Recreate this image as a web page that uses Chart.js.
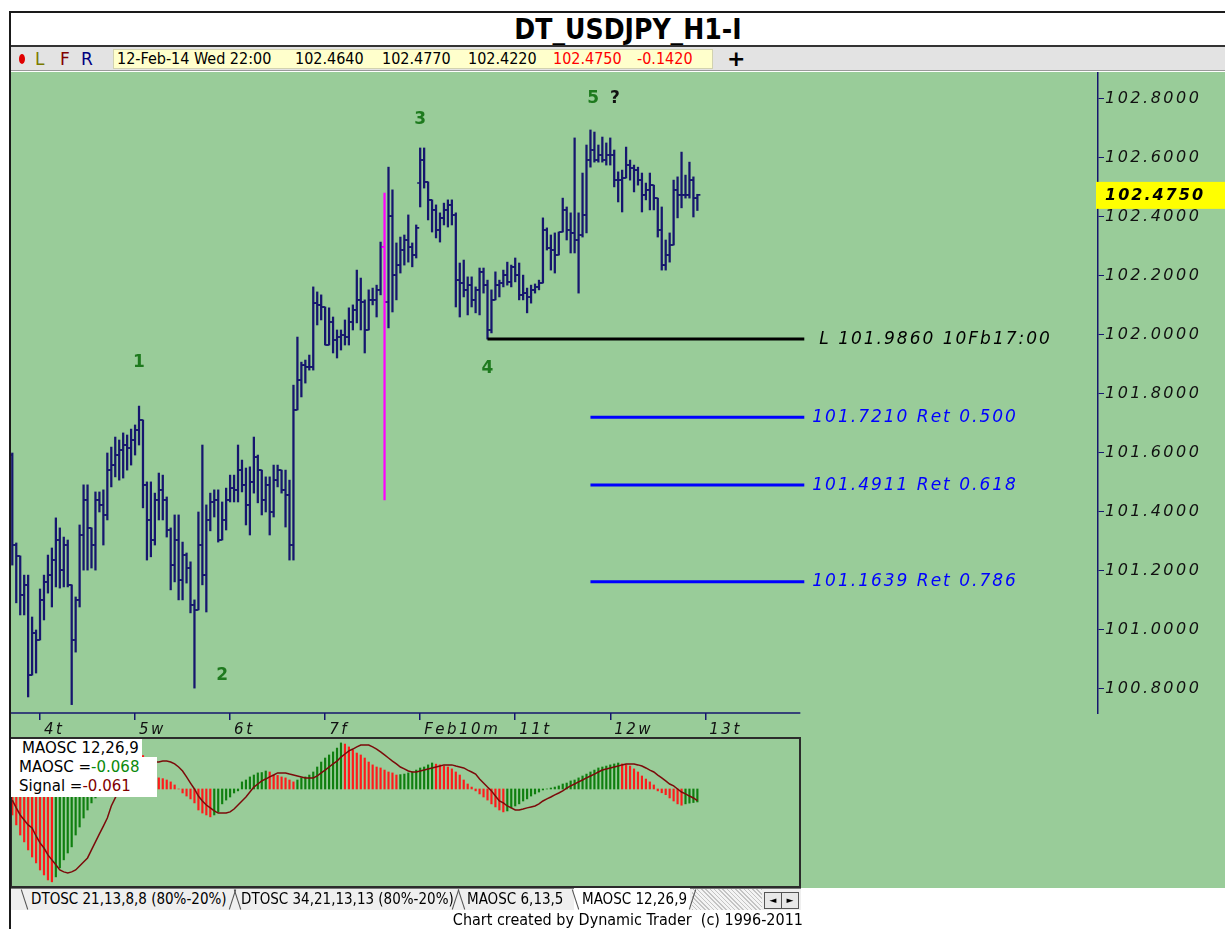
<!DOCTYPE html>
<html>
<head>
<meta charset="utf-8">
<title>DT_USDJPY_H1-I</title>
<script src="https://cdn.jsdelivr.net/npm/chart.js@4.4.1/dist/chart.umd.min.js"></script>
<style>
  body { margin: 0; width: 1225px; height: 929px; position: relative; overflow: hidden; background: #fff; font-family: "DejaVu Sans", sans-serif; }
  .abs { position: absolute; }
  .cond { font-family: "DejaVu Sans Condensed", "DejaVu Sans", sans-serif; font-stretch: condensed; }
  #frameTop { left: 9px; top: 11px; width: 1216px; height: 2px; background: #1a1a1a; }
  #frameLeft { left: 9px; top: 11px; width: 2px; height: 918px; background: #1a1a1a; z-index: 5; }
  #title { left: 0; top: 14px; width: 1256px; text-align: center; font-weight: bold; font-size: 28px; line-height: 32px; }
  #titleRule { left: 11px; top: 45px; width: 1214px; height: 2px; background: #333; }
  #toolbar { left: 11px; top: 47px; width: 1214px; height: 24px; background: #e3e3e3; border-bottom: 1px solid #9a9a9a; box-sizing: border-box; }
  #green { left: 11px; top: 72px; width: 1214px; height: 816px; background: #99cc99; }
  #quote { left: 113px; top: 49px; width: 600px; height: 20px; background: #ffffcc; border: 1px solid #d2d2b0; box-sizing: border-box; }
  .q { top: 49px; font-size: 16px; line-height: 20px; color: #000; }
  .q.red { color: #ff0000; }
  .lfr { top: 48px; font-size: 17px; line-height: 22px; }
  #oscFrame { left: 10px; top: 737px; width: 791px; height: 151px; border: 2px solid #2b2b2b; box-sizing: border-box; pointer-events: none; }
  .olab { font-size: 15px; line-height: 19px; color: #000; }
  #tabStrip { left: 11px; top: 888px; width: 790px; height: 22px; background: #efefef; border-top: 1px solid #7a7a7a; box-sizing: border-box; }
  .tab { top: 890px; font-size: 15px; line-height: 18px; color: #000; }
  .sep { top: 889px; width: 1px; height: 21px; background: #555; }
</style>
</head>
<body>
<div class="abs" id="green"></div>
<div class="abs" id="frameTop"></div>
<div class="abs" id="frameLeft"></div>
<div class="abs cond" id="title">DT_USDJPY_H1-I</div>
<div class="abs" id="titleRule"></div>
<div class="abs" id="toolbar"></div>
<div class="abs" style="left:19px;top:54px;width:6px;height:10px;border-radius:50%;background:#e00000"></div>
<div class="abs lfr" style="left:35px;color:#7a7a00">L</div>
<div class="abs lfr" style="left:60px;color:#800000">F</div>
<div class="abs lfr" style="left:81px;color:#000080">R</div>
<div class="abs" id="quote"></div>
<div class="abs q cond" id="qTime" style="left:117px">12-Feb-14 Wed 22:00</div>
<div class="abs q cond" id="qOpen" style="left:295px"></div>
<div class="abs q cond" id="qHigh" style="left:382px"></div>
<div class="abs q cond" id="qLow" style="left:468px"></div>
<div class="abs q cond red" id="qClose" style="left:553px"></div>
<div class="abs q cond red" id="qChange" style="left:637px">-0.1420</div>
<div class="abs" style="left:727px;top:46px;font-size:22px;font-weight:bold;line-height:26px">+</div>

<canvas id="priceChart" class="abs" style="left:0;top:72px" width="1225" height="668"></canvas>

<canvas id="oscChart" class="abs" style="left:10px;top:737px" width="790" height="150"></canvas>
<div class="abs" id="oscFrame"></div>
<div class="abs" style="left:11px;top:739px;width:131px;height:18px;background:#fff"></div>
<div class="abs" style="left:11px;top:757px;width:146px;height:40px;background:#fff"></div>
<div class="abs olab" style="left:22px;top:739px">MAOSC 12,26,9</div>
<div class="abs olab" style="left:19px;top:758px">MAOSC =<span id="oscVal" style="color:#0a8a0a"></span></div>
<div class="abs olab" style="left:19px;top:777px">Signal =<span id="sigVal" style="color:#800000"></span></div>

<div class="abs" id="tabStrip"></div>
<div class="abs" style="left:692px;top:889px;width:70px;height:21px;background:repeating-linear-gradient(45deg,#c4c4c4 0 1px,#f4f4f4 1px 3px)"></div>
<div class="abs" style="left:574px;top:888px;width:116px;height:22px;background:#fff"></div>
<div class="abs sep" style="left:24px;transform:rotate(-18deg)"></div>
<div class="abs sep" style="left:232px;transform:rotate(18deg)"></div>
<div class="abs sep" style="left:237px;transform:rotate(-18deg)"></div>
<div class="abs sep" style="left:455px;transform:rotate(18deg)"></div>
<div class="abs sep" style="left:461px;transform:rotate(-18deg)"></div>
<div class="abs sep" style="left:575px;transform:rotate(-18deg)"></div>
<div class="abs sep" style="left:692px;transform:rotate(18deg)"></div>
<div class="abs tab cond" style="left:31px">DTOSC 21,13,8,8 (80%-20%)</div>
<div class="abs tab cond" style="left:241px">DTOSC 34,21,13,13 (80%-20%)</div>
<div class="abs tab cond" style="left:467px">MAOSC 6,13,5</div>
<div class="abs tab cond" style="left:582px">MAOSC 12,26,9</div>
<div class="abs" style="left:764px;top:892px;width:16px;height:15px;border:1px solid #555;background:#e8e8e8;font-size:9px;line-height:15px;text-align:center">&#9668;</div>
<div class="abs" style="left:781px;top:892px;width:16px;height:15px;border:1px solid #555;background:#e8e8e8;font-size:9px;line-height:15px;text-align:center">&#9658;</div>
<div class="abs cond" style="left:0;top:910px;width:803px;text-align:right;font-size:16px;line-height:19px">Chart created by Dynamic Trader&nbsp; (c) 1996-2011</div>

<script>
// USDJPY hourly bars, 3-Feb 17:00 .. 12-Feb 22:00 (bar index 0..173)
const opens = [
  101.593, 101.288, 101.251, 101.119, 101.153, 100.847, 100.990, 100.966, 101.102, 101.163,
  101.186, 101.237, 101.305, 101.203, 101.288, 101.153, 100.966, 101.102, 101.322, 101.441,
  101.346, 101.288, 101.441, 101.424, 101.390, 101.542, 101.559, 101.593, 101.610, 101.627,
  101.617, 101.644, 101.678, 101.712, 101.492, 101.373, 101.305, 101.441, 101.475, 101.441,
  101.339, 101.220, 101.305, 101.169, 101.254, 101.210, 101.085, 101.068, 101.288, 101.186,
  101.373, 101.434, 101.441, 101.305, 101.373, 101.441, 101.481, 101.475, 101.542, 101.492,
  101.424, 101.502, 101.586, 101.542, 101.441, 101.492, 101.400, 101.508, 101.542, 101.475,
  101.458, 101.288, 101.746, 101.847, 101.898, 101.892, 101.892, 102.108, 102.102, 102.095,
  101.966, 102.044, 101.983, 101.993, 102.000, 101.993, 102.044, 102.085, 102.119, 102.112,
  102.017, 102.119, 102.119, 102.153, 102.298, 102.112, 102.403, 102.203, 102.237, 102.288,
  102.322, 102.298, 102.271, 102.515, 102.593, 102.519, 102.458, 102.424, 102.356, 102.397,
  102.424, 102.441, 102.407, 102.186, 102.176, 102.153, 102.169, 102.119, 102.153, 102.214,
  102.169, 102.017, 102.119, 102.169, 102.176, 102.203, 102.180, 102.231, 102.203, 102.136,
  102.142, 102.129, 102.153, 102.163, 102.176, 102.356, 102.295, 102.288, 102.271, 102.349,
  102.424, 102.356, 102.346, 102.322, 102.339, 102.407, 102.593, 102.627, 102.593, 102.610,
  102.593, 102.610, 102.610, 102.525, 102.525, 102.532, 102.576, 102.566, 102.559, 102.525,
  102.475, 102.492, 102.508, 102.464, 102.356, 102.237, 102.271, 102.305, 102.492, 102.475,
  102.475, 102.475, 102.525, 102.464
];
const highs = [
  101.600, 101.295, 101.251, 101.186, 101.186, 101.044, 101.000, 101.139, 101.186, 101.254,
  101.278, 101.380, 101.346, 101.315, 101.305, 101.153, 101.112, 101.356, 101.492, 101.492,
  101.346, 101.468, 101.468, 101.475, 101.600, 101.620, 101.654, 101.644, 101.668, 101.661,
  101.681, 101.695, 101.759, 101.712, 101.502, 101.502, 101.464, 101.532, 101.525, 101.451,
  101.346, 101.390, 101.390, 101.298, 101.261, 101.231, 101.102, 101.400, 101.627, 101.424,
  101.464, 101.475, 101.475, 101.434, 101.481, 101.525, 101.525, 101.627, 101.576, 101.549,
  101.553, 101.654, 101.593, 101.542, 101.519, 101.519, 101.559, 101.559, 101.542, 101.542,
  101.508, 101.830, 101.993, 101.908, 101.915, 101.932, 102.163, 102.146, 102.136, 102.095,
  102.092, 102.061, 102.017, 102.017, 102.051, 102.092, 102.102, 102.220, 102.193, 102.119,
  102.153, 102.159, 102.169, 102.315, 102.481, 102.569, 102.492, 102.312, 102.332, 102.339,
  102.407, 102.312, 102.373, 102.634, 102.634, 102.519, 102.458, 102.441, 102.414, 102.447,
  102.458, 102.458, 102.414, 102.244, 102.254, 102.197, 102.197, 102.163, 102.227, 102.227,
  102.186, 102.153, 102.214, 102.186, 102.220, 102.247, 102.237, 102.261, 102.244, 102.203,
  102.159, 102.169, 102.173, 102.186, 102.397, 102.363, 102.339, 102.346, 102.349, 102.464,
  102.434, 102.414, 102.668, 102.414, 102.549, 102.644, 102.695, 102.688, 102.644, 102.671,
  102.651, 102.668, 102.627, 102.553, 102.559, 102.637, 102.593, 102.576, 102.569, 102.549,
  102.515, 102.549, 102.508, 102.464, 102.434, 102.322, 102.346, 102.525, 102.536, 102.620,
  102.542, 102.586, 102.536, 102.477
];
const lows = [
  101.220, 101.092, 101.051, 101.051, 100.773, 100.847, 100.854, 100.966, 101.034, 101.125,
  101.078, 101.146, 101.142, 101.146, 101.146, 100.747, 100.925, 101.078, 101.203, 101.203,
  101.210, 101.203, 101.400, 101.288, 101.373, 101.485, 101.519, 101.508, 101.515, 101.542,
  101.559, 101.593, 101.627, 101.414, 101.237, 101.248, 101.288, 101.373, 101.373, 101.315,
  101.136, 101.163, 101.102, 101.102, 101.159, 101.058, 100.803, 101.068, 101.153, 101.061,
  101.336, 101.383, 101.298, 101.305, 101.339, 101.434, 101.434, 101.434, 101.468, 101.356,
  101.322, 101.464, 101.431, 101.390, 101.400, 101.322, 101.383, 101.485, 101.464, 101.349,
  101.237, 101.237, 101.746, 101.790, 101.837, 101.881, 101.881, 102.034, 102.051, 101.966,
  101.966, 101.939, 101.922, 101.949, 101.966, 101.966, 102.017, 102.041, 102.017, 101.939,
  102.017, 102.102, 102.061, 102.136, 101.441, 102.024, 102.078, 102.119, 102.210, 102.237,
  102.247, 102.231, 102.261, 102.434, 102.498, 102.390, 102.349, 102.329, 102.315, 102.373,
  102.366, 102.373, 102.095, 102.061, 102.129, 102.068, 102.095, 102.075, 102.068, 102.142,
  101.986, 102.007, 102.119, 102.129, 102.163, 102.169, 102.163, 102.180, 102.119, 102.119,
  102.075, 102.108, 102.142, 102.153, 102.176, 102.288, 102.220, 102.210, 102.271, 102.349,
  102.322, 102.278, 102.278, 102.142, 102.332, 102.346, 102.569, 102.586, 102.586, 102.586,
  102.576, 102.576, 102.502, 102.451, 102.417, 102.532, 102.525, 102.485, 102.508, 102.417,
  102.458, 102.424, 102.424, 102.332, 102.220, 102.220, 102.247, 102.305, 102.397, 102.431,
  102.464, 102.464, 102.400, 102.422
];
const closes = [
  101.288, 101.251, 101.119, 101.153, 100.847, 100.990, 100.966, 101.102, 101.163, 101.186,
  101.237, 101.305, 101.203, 101.288, 101.153, 100.966, 101.102, 101.322, 101.441, 101.346,
  101.288, 101.441, 101.424, 101.390, 101.542, 101.559, 101.593, 101.610, 101.627, 101.617,
  101.644, 101.678, 101.712, 101.492, 101.373, 101.305, 101.441, 101.475, 101.441, 101.339,
  101.220, 101.305, 101.169, 101.254, 101.210, 101.085, 101.068, 101.288, 101.186, 101.373,
  101.434, 101.441, 101.305, 101.373, 101.441, 101.481, 101.475, 101.542, 101.492, 101.424,
  101.502, 101.586, 101.542, 101.441, 101.492, 101.400, 101.508, 101.542, 101.475, 101.458,
  101.288, 101.746, 101.847, 101.898, 101.892, 101.892, 102.108, 102.102, 102.095, 101.966,
  102.044, 101.983, 101.993, 102.000, 101.993, 102.044, 102.085, 102.119, 102.112, 102.017,
  102.119, 102.119, 102.153, 102.298, 102.112, 102.403, 102.203, 102.237, 102.288, 102.322,
  102.298, 102.271, 102.363, 102.593, 102.519, 102.458, 102.424, 102.356, 102.397, 102.424,
  102.441, 102.407, 102.186, 102.176, 102.153, 102.169, 102.119, 102.153, 102.214, 102.169,
  102.017, 102.119, 102.169, 102.176, 102.203, 102.180, 102.231, 102.203, 102.136, 102.142,
  102.129, 102.153, 102.163, 102.176, 102.356, 102.295, 102.288, 102.271, 102.349, 102.424,
  102.356, 102.346, 102.322, 102.339, 102.407, 102.593, 102.627, 102.593, 102.610, 102.593,
  102.610, 102.610, 102.525, 102.525, 102.532, 102.576, 102.566, 102.559, 102.525, 102.475,
  102.492, 102.508, 102.464, 102.356, 102.237, 102.271, 102.305, 102.492, 102.475, 102.475,
  102.475, 102.525, 102.464, 102.475
];
const spikeBar = 94;   // the magenta bar on 7 Feb

// MAOSC 12,26,9 histogram and its signal line
const maosc = [
  -0.136, -0.188, -0.241, -0.277, -0.319, -0.356, -0.387, -0.424, -0.450, -0.476,
  -0.486, -0.460, -0.413, -0.371, -0.335, -0.303, -0.241, -0.199, -0.152, -0.110,
  -0.073, -0.047, -0.020, 0.010, 0.040, 0.070, 0.100, 0.120, 0.140, 0.160,
  0.170, 0.180, 0.185, 0.175, 0.150, 0.110, 0.062, 0.058, 0.054, 0.047,
  0.037, 0.021, 0.000, -0.021, -0.037, -0.052, -0.073, -0.110, -0.126, -0.136,
  -0.146, -0.136, -0.120, -0.078, -0.058, -0.042, -0.021, -0.010, 0.037, 0.047,
  0.063, 0.073, 0.084, 0.086, 0.094, 0.089, 0.073, 0.071, 0.063, 0.058,
  0.047, 0.037, 0.047, 0.058, 0.063, 0.073, 0.089, 0.115, 0.141, 0.162,
  0.178, 0.194, 0.214, 0.241, 0.235, 0.220, 0.204, 0.188, 0.178, 0.162,
  0.141, 0.126, 0.115, 0.110, 0.099, 0.089, 0.084, 0.073, 0.075, 0.078,
  0.084, 0.089, 0.099, 0.110, 0.115, 0.126, 0.136, 0.130, 0.126, 0.120,
  0.115, 0.105, 0.089, 0.073, 0.047, 0.026, 0.010, -0.010, -0.026, -0.042,
  -0.058, -0.078, -0.094, -0.110, -0.120, -0.115, -0.099, -0.089, -0.078, -0.063,
  -0.052, -0.037, -0.026, -0.016, -0.005, 0.000, 0.005, 0.010, 0.016, 0.026,
  0.031, 0.042, 0.047, 0.058, 0.068, 0.078, 0.089, 0.099, 0.110, 0.115,
  0.120, 0.126, 0.131, 0.136, 0.131, 0.126, 0.120, 0.105, 0.089, 0.068,
  0.052, 0.037, 0.021, -0.010, -0.020, -0.030, -0.047, -0.063, -0.078, -0.085,
  -0.078, -0.074, -0.071, -0.068
];
const signal = [
  -0.058, -0.099, -0.136, -0.162, -0.188, -0.204, -0.246, -0.282, -0.309, -0.345,
  -0.371, -0.397, -0.424, -0.434, -0.439, -0.434, -0.424, -0.403, -0.382, -0.361,
  -0.319, -0.277, -0.235, -0.194, -0.152, -0.089, -0.047, -0.005, 0.031, 0.058,
  0.078, 0.094, 0.110, 0.120, 0.131, 0.136, 0.141, 0.141, 0.146, 0.146,
  0.141, 0.131, 0.115, 0.094, 0.063, 0.031, 0.000, -0.037, -0.063, -0.084,
  -0.099, -0.115, -0.126, -0.126, -0.126, -0.120, -0.105, -0.084, -0.063, -0.042,
  -0.016, 0.010, 0.026, 0.042, 0.052, 0.063, 0.073, 0.084, 0.084, 0.084,
  0.078, 0.073, 0.068, 0.063, 0.058, 0.058, 0.058, 0.068, 0.084, 0.099,
  0.115, 0.131, 0.146, 0.167, 0.183, 0.199, 0.209, 0.220, 0.230, 0.230,
  0.230, 0.220, 0.209, 0.194, 0.178, 0.162, 0.146, 0.131, 0.115, 0.105,
  0.094, 0.089, 0.089, 0.094, 0.099, 0.105, 0.110, 0.115, 0.120, 0.126,
  0.126, 0.126, 0.120, 0.115, 0.110, 0.099, 0.089, 0.078, 0.052, 0.031,
  0.010, -0.010, -0.037, -0.063, -0.073, -0.089, -0.099, -0.110, -0.110, -0.105,
  -0.099, -0.094, -0.089, -0.078, -0.063, -0.052, -0.042, -0.031, -0.021, -0.010,
  0.005, 0.016, 0.026, 0.037, 0.047, 0.058, 0.068, 0.078, 0.089, 0.099,
  0.105, 0.110, 0.115, 0.120, 0.126, 0.131, 0.131, 0.131, 0.126, 0.120,
  0.110, 0.099, 0.089, 0.073, 0.058, 0.042, 0.026, 0.016, 0.000, -0.016,
  -0.026, -0.037, -0.047, -0.061
];

// axis ticks
const dayTicks = [7, 31, 55, 79, 103, 127, 151, 175];
const dayLabels = ['4t', '5w', '6t', '7f', 'Feb10m', '11t', '12w', '13t'];
const priceTicks = [100.8, 101.0, 101.2, 101.4, 101.6, 101.8, 102.0, 102.2, 102.4, 102.6, 102.8];
const axisEnd = 199;   // start of 14 Feb, where the time axis stops

// swing low and fib retracement lines
const levelValues = [101.986, 101.721, 101.4911, 101.1639];
const levelStart = [120, 146, 146, 146];
const levelEnd = 200;
const levelLabels = ['L 101.9860 10Fb17:00', '101.7210 Ret 0.500', '101.4911 Ret 0.618', '101.1639 Ret 0.786'];

// elliott wave count
const waveText = ['1', '2', '3', '4', '5', '?'];
const waveBar = [32, 53, 103, 120, 146.7, 152.2];
const wavePrice = [101.908, 100.847, 102.729, 101.885, 102.803, 102.803];

const NAVY = '#16166e';
const SPIKE = '#ff00ff';
const xFirst = -0.58;
const pxPerBar = 3.96;
const last = closes.length - 1;

document.getElementById('qOpen').textContent = opens[last].toFixed(4);
document.getElementById('qHigh').textContent = highs[last].toFixed(4);
document.getElementById('qLow').textContent = lows[last].toFixed(4);
document.getElementById('qClose').textContent = closes[last].toFixed(4);
document.getElementById('oscVal').textContent = maosc[last].toFixed(3);
document.getElementById('sigVal').textContent = signal[last].toFixed(3);

const handFont = { family: 'DejaVu Sans', style: 'italic', size: 15 };

const priceMarks = {
  id: 'priceMarks',
  beforeDraw(chart) {
    // the axis font in the original is a wide script face
    chart.ctx.letterSpacing = '2.5px';
  },
  afterDatasetsDraw(chart) {
    const { ctx, chartArea, scales: { x, y } } = chart;
    ctx.save();
    // open tick left, close tick right
    ctx.lineWidth = 1.6;
    closes.forEach((c, i) => {
      const px = x.getPixelForValue(i);
      const yo = y.getPixelForValue(opens[i]);
      const yc = y.getPixelForValue(c);
      ctx.strokeStyle = i === spikeBar ? SPIKE : NAVY;
      ctx.beginPath();
      ctx.moveTo(px - 3, yo); ctx.lineTo(px, yo);
      ctx.moveTo(px, yc); ctx.lineTo(px + 3, yc);
      ctx.stroke();
    });
    // time axis line only runs under the bars
    ctx.strokeStyle = NAVY;
    ctx.lineWidth = 1.5;
    ctx.beginPath();
    ctx.moveTo(chartArea.left, chartArea.bottom);
    ctx.lineTo(x.getPixelForValue(axisEnd), chartArea.bottom);
    ctx.stroke();
    // level captions
    ctx.font = 'italic 17px "DejaVu Sans"';
    ctx.letterSpacing = '2px';
    ctx.textBaseline = 'middle';
    ctx.textAlign = 'left';
    levelValues.forEach((v, k) => {
      ctx.fillStyle = k === 0 ? '#000000' : '#0000ff';
      ctx.fillText(levelLabels[k], x.getPixelForValue(levelEnd) + (k === 0 ? 15 : 8), y.getPixelForValue(v));
    });
    // wave labels
    ctx.letterSpacing = '0px';
    ctx.font = 'bold 17px "DejaVu Sans"';
    ctx.textAlign = 'center';
    waveText.forEach((t, k) => {
      ctx.fillStyle = t === '?' ? '#111111' : '#1e7a1e';
      ctx.fillText(t, x.getPixelForValue(waveBar[k]), y.getPixelForValue(wavePrice[k]));
    });
    ctx.restore();
  },
  afterDraw(chart) {
    const { ctx, chartArea, scales: { y } } = chart;
    const py = y.getPixelForValue(closes[last]);
    ctx.save();
    ctx.fillStyle = '#ffff00';
    ctx.fillRect(chartArea.right - 2, py - 13, chart.width - chartArea.right + 2, 27);
    ctx.fillStyle = '#000000';
    ctx.font = 'italic bold 16px "DejaVu Sans"';
    ctx.letterSpacing = '2px';
    ctx.textBaseline = 'middle';
    ctx.fillText(closes[last].toFixed(4), chartArea.right + 7, py + 1);
    ctx.restore();
    ctx.letterSpacing = '0px';
  }
};

new Chart(document.getElementById('priceChart'), {
  type: 'bar',
  data: {
    datasets: [
      {
        label: 'USDJPY H1',
        data: highs.map((h, i) => ({ x: i, y: [lows[i], h] })),
        backgroundColor: highs.map((h, i) => i === spikeBar ? SPIKE : NAVY),
        barThickness: 1.6,
        grouped: false,
        order: 2
      },
      ...levelValues.map((v, k) => ({
        type: 'line',
        label: levelLabels[k],
        data: [{ x: levelStart[k], y: v }, { x: levelEnd, y: v }],
        borderColor: k === 0 ? '#000000' : '#0000ff',
        borderWidth: 3,
        pointRadius: 0,
        order: 1
      }))
    ]
  },
  options: {
    responsive: false,
    animation: false,
    layout: { padding: { left: 10, top: 0, right: 0, bottom: 0 } },
    plugins: { legend: { display: false }, tooltip: { enabled: false } },
    scales: {
      x: {
        type: 'linear',
        min: xFirst,
        max: xFirst + 1088 / pxPerBar,
        offset: false,
        afterBuildTicks: s => { s.ticks = dayTicks.map(v => ({ value: v })); },
        afterFit: s => { s.height = 27; s.paddingLeft = 0; s.paddingRight = 0; },
        border: { display: false },
        grid: { drawOnChartArea: false, drawTicks: true, tickLength: 7, color: NAVY, lineWidth: 1.5, offset: false },
        ticks: {
          autoSkip: false, maxRotation: 0, align: 'start', labelOffset: 4, padding: 1,
          color: '#111111', font: handFont,
          callback: (v, idx) => dayLabels[idx]
        }
      },
      y: {
        position: 'right',
        min: 100.7186,
        max: 102.8915,
        afterBuildTicks: s => { s.ticks = priceTicks.map(v => ({ value: v })); },
        afterFit: s => { s.width = 127; s.paddingTop = 0; s.paddingBottom = 0; },
        border: { color: NAVY, width: 1.5 },
        grid: { drawOnChartArea: false, tickLength: 6, color: NAVY },
        ticks: {
          padding: 1, color: '#111111',
          font: { family: 'DejaVu Sans', style: 'italic', size: 16 },
          callback: v => v.toFixed(4)
        }
      }
    }
  },
  plugins: [priceMarks]
});

new Chart(document.getElementById('oscChart'), {
  type: 'bar',
  data: {
    datasets: [
      {
        type: 'line',
        label: 'Signal',
        data: signal.map((v, i) => ({ x: i, y: v })),
        borderColor: '#7b0a0a',
        borderWidth: 1.5,
        pointRadius: 0,
        order: 0
      },
      {
        label: 'MAOSC',
        data: maosc.map((v, i) => ({ x: i, y: v })),
        backgroundColor: maosc.map((v, i) => (i === 0 || v < maosc[i - 1]) ? '#ff1a1a' : '#0f7f0f'),
        barThickness: 1.5,
        order: 1
      }
    ]
  },
  options: {
    responsive: false,
    animation: false,
    layout: { padding: 0 },
    plugins: { legend: { display: false }, tooltip: { enabled: false } },
    scales: {
      x: { type: 'linear', min: xFirst, max: xFirst + 790 / pxPerBar, offset: false, display: false },
      y: { min: -0.513, max: 0.272, display: false }
    }
  }
});
</script>
</body>
</html>
